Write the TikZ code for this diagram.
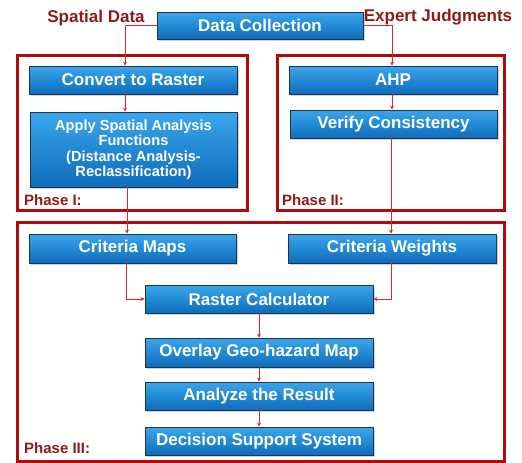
\documentclass[tikz,border=0pt]{standalone}
\usepackage{fontspec}
\setmainfont{Liberation Sans}
\usetikzlibrary{arrows.meta,shadows}
\definecolor{boxtop}{HTML}{3AA6EC}
\definecolor{boxbot}{HTML}{0E6CBC}
\definecolor{boxline}{HTML}{1E3550}
\definecolor{framered}{HTML}{B00A0A}
\definecolor{labelred}{HTML}{8E1B1B}
\definecolor{arrowred}{HTML}{E02626}
\tikzset{
  stepbox/.style={draw=boxline, line width=0.9pt, top color=boxtop, bottom color=boxbot,
    text=white, font=\bfseries\fontsize{17}{17}\selectfont, align=center,
    inner sep=0pt, drop shadow={shadow xshift=1.5pt, shadow yshift=-1.5pt, fill=black!35, opacity=0.5}},
  phaseframe/.style={draw=framered, line width=3pt},
  redlabel/.style={text=labelred, font=\bfseries\fontsize{17}{17}\selectfont, inner sep=0pt},
  phaselabel/.style={text=labelred, font=\bfseries\fontsize{15}{15}\selectfont, inner sep=0pt, anchor=west},
  flow/.style={draw=arrowred, line width=0.8pt, -{Stealth[length=4pt,width=4pt]}}
}
\begin{document}
\begin{tikzpicture}[x=1pt,y=-1pt]
\useasboundingbox (0,0) rectangle (522,463);
% frames
\draw[phaseframe] (17,55) rectangle (247,210);
\draw[phaseframe] (277,55) rectangle (504,210);
\draw[phaseframe] (17,222) rectangle (504,461);
% labels
\node[redlabel] (sd) at (96,18) {Spatial Data};
\node[redlabel] (ej) at (438,17) {Expert Judgments};
\node[phaselabel] (p1) at (24,200) {Phase I:};
\node[phaselabel] (p2) at (282,200) {Phase II:};
\node[phaselabel] (p3) at (24,448) {Phase III:};
% boxes
\node[stepbox, minimum width=206pt, minimum height=27pt] (dc) at (260,25.5) {Data Collection};
\node[stepbox, minimum width=208pt, minimum height=28pt] (cr) at (133,80) {Convert to Raster};
\node[stepbox, minimum width=208pt, minimum height=28pt] (ahp) at (393,80) {AHP};
\node[stepbox, minimum width=207pt, minimum height=75pt, font=\bfseries\fontsize{14.6}{15.5}\selectfont] (asa) at (133.5,149.5) {Apply Spatial Analysis\\Functions\\(Distance Analysis-\\Reclassification)};
\node[stepbox, minimum width=207pt, minimum height=28pt] (vc) at (393.5,124) {Verify Consistency};
\node[stepbox, minimum width=207pt, minimum height=29pt] (cm) at (132.5,248.5) {Criteria Maps};
\node[stepbox, minimum width=208pt, minimum height=29pt] (cw) at (392,248.5) {Criteria Weights};
\node[stepbox, minimum width=228pt, minimum height=28pt] (rc) at (259,299) {Raster Calculator};
\node[stepbox, minimum width=228pt, minimum height=29pt] (og) at (259,352.5) {Overlay Geo-hazard Map};
\node[stepbox, minimum width=228pt, minimum height=28pt] (ar) at (259,396) {Analyze the Result};
\node[stepbox, minimum width=228pt, minimum height=28pt] (dss) at (259,441) {Decision Support System};
% connectors
\draw[flow] (dc.west) -| (cr.north -| 125,0);
\draw[flow] (dc.east) -| (ahp.north -| 392,0);
\draw[flow] (cr.south -| 125,0) -- (asa.north -| 125,0);
\draw[flow] (ahp.south -| 392,0) -- (vc.north -| 392,0);
\draw[flow] (asa.south -| 127,0) -- (cm.north -| 127,0);
\draw[flow] (vc.south -| 391,0) -- (cw.north -| 391,0);
\draw[flow] (cm.south -| 126,0) |- (rc.west);
\draw[flow] (cw.south -| 391,0) |- (rc.east);
\draw[flow] (rc) -- (og);
\draw[flow] (og) -- (ar);
\draw[flow] (ar) -- (dss);
\end{tikzpicture}
\end{document}
